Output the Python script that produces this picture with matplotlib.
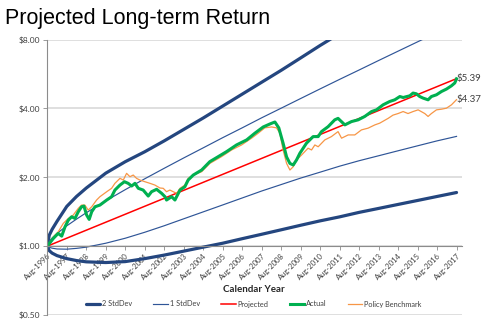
import matplotlib
matplotlib.use("Agg")
import matplotlib.pyplot as plt

plt.rcParams['font.family'] = ['Lato', 'DejaVu Sans']

# Calendar axis: one tick per August, Aug-1996 .. Aug-2017
tick_years = list(range(1996, 2018))
tick_labels = [f"Aug-{y}" for y in tick_years]

# Growth of $1 (years elapsed since Aug-1996)
band_t = [0, 0.1, 0.25, 0.5, 1, 1.5, 2, 3, 4, 5, 6, 7, 8, 9, 10, 11, 12, 13, 14,
          15, 16, 17, 18, 19, 20, 21]
upper_2sd = [1.00, 1.116, 1.185, 1.284, 1.492, 1.649, 1.795, 2.085, 2.34, 2.586,
             2.886, 3.238, 3.633, 4.096, 4.618, 5.207, 5.87, 6.65, 7.54, 8.50,
             9.58, 10.8, 12.1, 13.6, 15.3, 17.2]
upper_1sd = [1.00, 1.049, 1.086, 1.137, 1.227, 1.313, 1.40, 1.577, 1.766, 1.97,
             2.19, 2.43, 2.69, 2.98, 3.29, 3.64, 4.01, 4.42, 4.87, 5.36, 5.89,
             6.48, 7.12, 7.82, 8.59, 9.4]
lower_1sd = [1.00, 0.988, 0.980, 0.972, 0.970, 0.978, 0.990, 1.030, 1.083, 1.150,
             1.228, 1.317, 1.412, 1.514, 1.624, 1.742, 1.859, 1.984, 2.106, 2.237,
             2.363, 2.484, 2.612, 2.746, 2.886, 3.019]
lower_2sd = [1.000, 0.956, 0.932, 0.909, 0.882, 0.865, 0.854, 0.848, 0.856, 0.882,
             0.914, 0.951, 0.990, 1.030, 1.078, 1.127, 1.179, 1.234, 1.290, 1.343,
             1.405, 1.462, 1.522, 1.584, 1.649, 1.716]

projected_t = [0, 21.0]
projected = [1.00, 5.40]

actual_t = [0, 0.31, 0.56, 0.74, 0.91, 1.08, 1.25, 1.42, 1.59, 1.76, 1.88, 2.02,
            2.15, 2.28, 2.45, 2.70, 3.05, 3.30, 3.47, 3.73, 3.96, 4.15, 4.33, 4.50,
            4.67, 4.92, 5.18, 5.35, 5.61, 5.87, 6.04, 6.12, 6.38, 6.55, 6.81, 7.06,
            7.23, 7.49, 7.92, 8.34, 8.77, 9.20, 9.71, 10.23, 10.65, 11.08, 11.42,
            11.68, 11.88, 12.10, 12.28, 12.45, 12.62, 12.79, 12.96, 13.30, 13.64,
            13.90, 14.07, 14.41, 14.75, 14.92, 15.27, 15.61, 15.95, 16.29, 16.64,
            16.89, 17.23, 17.57, 17.83, 18.09, 18.26, 18.60, 18.77, 18.94, 19.11,
            19.28, 19.54, 19.71, 19.97, 20.23, 20.48, 20.74, 20.91, 21.0]
actual = [1.00, 1.081, 1.137, 1.106, 1.215, 1.300, 1.344, 1.322, 1.414, 1.487,
          1.497, 1.367, 1.309, 1.414, 1.487, 1.512, 1.591, 1.645, 1.759, 1.850,
          1.913, 1.882, 1.832, 1.882, 1.790, 1.759, 1.656, 1.730, 1.772, 1.701,
          1.645, 1.591, 1.645, 1.591, 1.759, 1.819, 1.946, 2.046, 2.152, 2.341,
          2.462, 2.590, 2.770, 2.914, 3.117, 3.320, 3.42, 3.49, 3.29, 2.82, 2.455,
          2.30, 2.264, 2.382, 2.547, 2.82, 3.013, 3.013, 3.168, 3.330, 3.566, 3.62,
          3.39, 3.505, 3.566, 3.69, 3.877, 3.944, 4.148, 4.29, 4.363, 4.51, 4.466,
          4.543, 4.67, 4.635, 4.51, 4.44, 4.363, 4.51, 4.59, 4.745, 4.86, 5.025,
          5.17, 5.39]

benchmark_t = [0, 0.31, 0.56, 0.82, 1.08, 1.33, 1.59, 1.76, 1.93, 2.10, 2.28, 2.53,
               2.70, 3.05, 3.30, 3.47, 3.73, 3.90, 4.07, 4.24, 4.41, 4.58, 4.75,
               5.01, 5.27, 5.52, 5.78, 5.95, 6.12, 6.29, 6.64, 6.81, 7.06, 7.23,
               7.49, 7.92, 8.34, 8.94, 9.46, 9.97, 10.48, 10.82, 11.16, 11.51,
               11.76, 11.93, 12.10, 12.28, 12.45, 12.62, 12.79, 13.05, 13.38, 13.56,
               13.73, 13.90, 14.24, 14.58, 14.92, 15.10, 15.44, 15.78, 16.12, 16.46,
               16.81, 17.06, 17.49, 17.74, 18.0, 18.26, 18.51, 18.77, 19.03, 19.37,
               19.54, 19.71, 19.97, 20.23, 20.48, 20.74, 21.0]
benchmark = [1.00, 1.098, 1.155, 1.257, 1.322, 1.367, 1.463, 1.512, 1.512, 1.438,
             1.487, 1.591, 1.645, 1.730, 1.790, 1.882, 1.979, 1.946, 2.081, 2.012,
             2.046, 1.979, 1.946, 1.913, 1.882, 1.850, 1.796, 1.790, 1.730, 1.759,
             1.701, 1.790, 1.850, 1.979, 2.046, 2.116, 2.30, 2.462, 2.634, 2.770,
             2.965, 3.117, 3.29, 3.32, 3.29, 3.127, 2.634, 2.30, 2.152, 2.225, 2.382,
             2.504, 2.68, 2.634, 2.770, 2.72, 2.914, 3.013, 3.168, 2.965, 3.064,
             3.064, 3.223, 3.28, 3.39, 3.45, 3.62, 3.74, 3.80, 3.877, 3.80, 3.877,
             3.944, 3.80, 3.69, 3.80, 3.944, 3.97, 4.01, 4.148, 4.37]

y_ticks = [0.5, 1, 2, 4, 8]

C_2SD = '#24467f'
C_1SD = '#2f5597'
C_PROJ = '#ff0000'
C_ACT = '#00b050'
C_BENCH = '#f79646'
TXT = '#404040'
AXIS = '#8c8c8c'

fig = plt.figure(figsize=(4.86, 3.28), dpi=100)
ax = fig.add_axes([0.0973, 0.0396, 0.8533, 0.8397])
ax.set_yscale('log', base=2)
ax.set_ylim(0.5, 8)
ax.set_xlim(0, 21.28)

l_2sd, = ax.plot(band_t, upper_2sd, color=C_2SD, lw=2.3, label='2 StdDev',
                 solid_capstyle='round', solid_joinstyle='round')
ax.plot(band_t, lower_2sd, color=C_2SD, lw=2.3, solid_capstyle='round',
        solid_joinstyle='round')
l_1sd, = ax.plot(band_t, upper_1sd, color=C_1SD, lw=0.85, label='1 StdDev')
ax.plot(band_t, lower_1sd, color=C_1SD, lw=0.85)
l_proj, = ax.plot(projected_t, projected, color=C_PROJ, lw=1.1, label='Projected')
l_bench, = ax.plot(benchmark_t, benchmark, color=C_BENCH, lw=0.9,
                   label='Policy Benchmark')
l_act, = ax.plot(actual_t, actual, color=C_ACT, lw=2.2, label='Actual',
                 solid_joinstyle='round')

# end-of-series value labels
ax.text(actual_t[-1], actual[-1], f"${actual[-1]:.2f}", ha='left', va='center',
        fontsize=7, color=TXT)
ax.text(benchmark_t[-1], benchmark[-1], f"${benchmark[-1]:.2f}", ha='left',
        va='center', fontsize=7, color=TXT)

# axes styling
ax.set_yticks(y_ticks)
ax.set_yticklabels([f"${v:.2f}" for v in y_ticks])
ax.yaxis.set_minor_locator(matplotlib.ticker.NullLocator())
ax.set_xticks([y - 1996 for y in tick_years])
ax.set_xticklabels(tick_labels)
ax.yaxis.grid(True, color='#d9d9d9', lw=1.2)
ax.set_axisbelow(True)
for s in ('top', 'right'):
    ax.spines[s].set_visible(False)
ax.spines['left'].set_color(AXIS)
ax.spines['left'].set_linewidth(0.8)
ax.spines['bottom'].set_position(('data', 1.0))
ax.spines['bottom'].set_color(AXIS)
ax.spines['bottom'].set_linewidth(0.8)
ax.tick_params(axis='y', length=3, width=0.6, color=AXIS, labelsize=6,
               labelcolor=TXT, pad=2)
ax.tick_params(axis='x', length=3, width=0.6, color=AXIS, labelsize=5.5,
               labelcolor=TXT, pad=1)
for lbl in ax.get_xticklabels():
    lbl.set_rotation(45)
    lbl.set_ha('right')
    lbl.set_va('top')
    lbl.set_rotation_mode('anchor')

fig.text(5 / 486, 1 - 24 / 328, "Projected Long-term Return", fontsize=15.5,
         family=['Liberation Sans', 'DejaVu Sans'], color='black', va='baseline')
fig.text(253.5 / 486, 1 - 290 / 328, "Calendar Year", fontsize=7,
         fontweight='bold', color='#262626', ha='center', va='center')

fig.legend([l_2sd, l_1sd, l_proj, l_act, l_bench],
           ['2 StdDev', '1 StdDev', 'Projected', 'Actual', 'Policy Benchmark'],
           loc='center', bbox_to_anchor=(253.5 / 486, 1 - 304 / 328), ncol=5,
           frameon=False, fontsize=5.3, handlelength=2.0, handletextpad=0.2,
           columnspacing=2.9, labelcolor=TXT)

fig.savefig('out.png', dpi=100)
